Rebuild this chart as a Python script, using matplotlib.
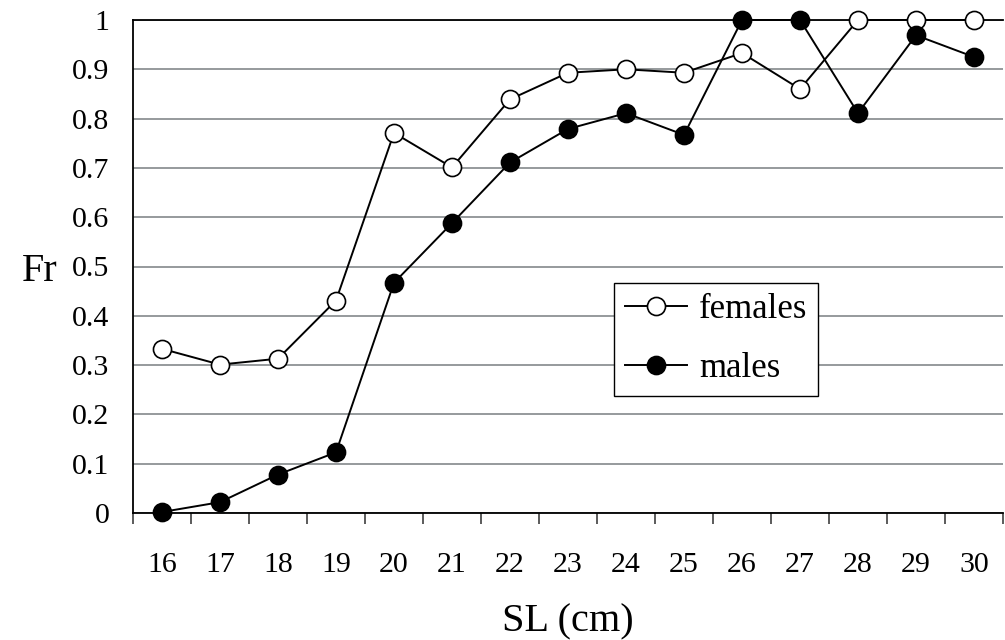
import numpy as np
import matplotlib
matplotlib.use('Agg')
import matplotlib.pyplot as plt

# standard length classes (cm)
sl = [16, 17, 18, 19, 20, 21, 22, 23, 24, 25, 26, 27, 28, 29, 30]
females = [0.333, 0.301, 0.313, 0.431, 0.771, 0.701, 0.839, 0.893, 0.900, 0.893,
           0.933, 0.860, 1.0, 1.0, 1.0]
males = [0.002, 0.022, 0.078, 0.123, 0.467, 0.588, 0.711, 0.779, 0.811, 0.767,
         1.0, 1.0, 0.811, 0.969, 0.925]
yticks = [0, 0.1, 0.2, 0.3, 0.4, 0.5, 0.6, 0.7, 0.8, 0.9, 1]
ytick_labels = ['0', '0.1', '0.2', '0.3', '0.4', '0.5', '0.6', '0.7', '0.8', '0.9', '1']

plt.rcParams['font.family'] = ['Liberation Serif', 'DejaVu Serif']

fig = plt.figure(figsize=(10.05, 6.4), dpi=100)
ax = fig.add_axes([133/1005, 1 - 513/640, 870/1005, 493/640])

x = np.arange(len(sl))
ax.plot(x, females, color='black', lw=1.4, marker='o', ms=13, mfc='white',
        mec='black', mew=1.2, label='females', zorder=3, clip_on=False)
ax.plot(x, males, color='black', lw=1.4, marker='o', ms=13, mfc='black',
        mec='black', mew=1.2, label='males', zorder=4, clip_on=False)

ax.set_xlim(-0.5, len(sl) - 0.5)
ax.set_ylim(0, 1)
ax.set_yticks(yticks)
ax.set_yticklabels(ytick_labels)
ax.set_xticks(x)
ax.set_xticklabels([str(v) for v in sl])
ax.set_xticks(np.arange(-0.5, len(sl)), minor=True)

ax.tick_params(axis='y', length=0, pad=17, labelsize=21.5)
ax.tick_params(axis='x', which='major', length=0, pad=28, labelsize=21.5)
ax.tick_params(axis='x', which='minor', length=8, width=1.2, direction='out', color='#404040')

ax.grid(which='major', axis='y', color='#8e9294', lw=1.3)
ax.set_axisbelow(True)

for s in ['left', 'bottom', 'top']:
    ax.spines[s].set_linewidth(1.3)
    ax.spines[s].set_color('black')
ax.spines['right'].set_visible(False)

ax.set_xlabel('SL (cm)', fontsize=29)
ax.xaxis.set_label_coords(0.5, -0.22)
ax.xaxis.label.set_va('center')
ax.set_ylabel('Fr', fontsize=29, rotation=0)
ax.yaxis.set_label_coords(-0.107, 0.49)
ax.yaxis.label.set_va('center')

leg = ax.legend(loc='upper left', bbox_to_anchor=(0.553, 0.4665), fontsize=25,
                frameon=True, fancybox=False, framealpha=1, edgecolor='black',
                handlelength=1.8, handletextpad=0.35, borderpad=0.3,
                labelspacing=0.75, borderaxespad=0)
leg.get_frame().set_linewidth(1.0)

fig.savefig('out.png', dpi=100)
